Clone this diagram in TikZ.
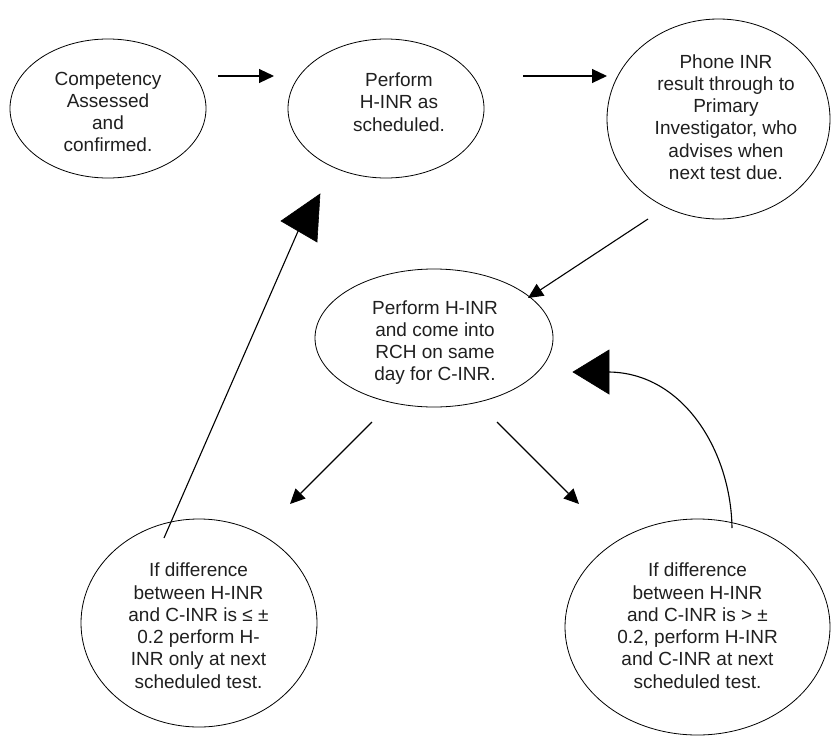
\documentclass[tikz,border=0pt]{standalone}
\usepackage{fontspec}
\setmainfont{Liberation Sans}
\usetikzlibrary{shapes.geometric,arrows.meta}
\tikzset{
  ell/.style={draw, ellipse, inner sep=0pt, outer sep=0pt, line width=0.8pt},
  txt/.style={align=center, inner sep=0pt, text=black!88, font=\fontsize{19}{22.3}\selectfont},
  conn/.style={line width=1.1pt, -{Triangle[length=15pt,width=14pt]}},
  plain/.style={line width=1.1pt},
  bighead/.style={fill=black, draw=black, line width=0.6pt, line join=miter}
}
\begin{document}
\begin{tikzpicture}[x=1pt,y=-1pt]
\useasboundingbox (0,0) rectangle (832,736);
% ellipses
\node[ell, minimum width=196pt, minimum height=139pt] (e1) at (108,108.5) {};
\node[ell, minimum width=196pt, minimum height=139pt] (e2) at (386,108.5) {};
\node[ell, minimum width=223pt, minimum height=200pt] (e3) at (718.5,119) {};
\node[ell, minimum width=238pt, minimum height=138pt] (e4) at (434,338) {};
\node[ell, minimum width=236pt, minimum height=208pt] (e5) at (199,623) {};
\node[ell, minimum width=265pt, minimum height=216pt] (e6) at (697.5,627) {};
% texts
\node[txt] (t1) at (108,112) {Competency\\Assessed\\and\\confirmed.};
\node[txt] (t2) at (399,102) {Perform\\H-INR as\\scheduled.};
\node[txt] (t3) at (726,117) {Phone INR\\result through to\\Primary\\Investigator, who\\advises when\\next test due.};
\node[txt] (t4) at (435,342.6) {Perform H-INR\\and come into\\RCH on same\\day for C-INR.};
\node[txt] (t5) at (198.5,625.7) {If difference\\between H-INR\\and C-INR is ≤ ±\\0.2 perform H-\\INR only at next\\scheduled test.};
\node[txt] (t6) at (697.5,625.7) {If difference\\between H-INR\\and C-INR is > ±\\0.2, perform H-INR\\and C-INR at next\\scheduled test.};
% connector end points
\coordinate (a1s) at (218,76);   \coordinate (a1e) at (274,76);
\coordinate (a2s) at (523,76);   \coordinate (a2e) at (607,76);
\coordinate (a3s) at (648,219);  \coordinate (a3e) at (528,298);
\coordinate (a4s) at (372,422);  \coordinate (a4e) at (290,504);
\coordinate (a5s) at (497,422);  \coordinate (a5e) at (579,504);
\coordinate (a6s) at (164,538);  \coordinate (a6e) at (299,229);
\coordinate (a7s) at (732,528);  \coordinate (a7e) at (609,372);
% connectors
\draw[conn] (a1s) -- (a1e);
\draw[conn] (a2s) -- (a2e);
\draw[conn] (a3s) -- (a3e);
\draw[conn] (a4s) -- (a4e);
\draw[conn] (a5s) -- (a5e);
\draw[plain] (a6s) -- (a6e);
\draw[plain] (a7s) .. controls (731,452) and (684,373) .. (a7e);
% big arrowheads
\draw[bighead] (320,194) -- (281,221) -- (317,242) -- cycle;
\draw[bighead] (573,372) -- (609,350) -- (609,394) -- cycle;
\end{tikzpicture}
\end{document}
